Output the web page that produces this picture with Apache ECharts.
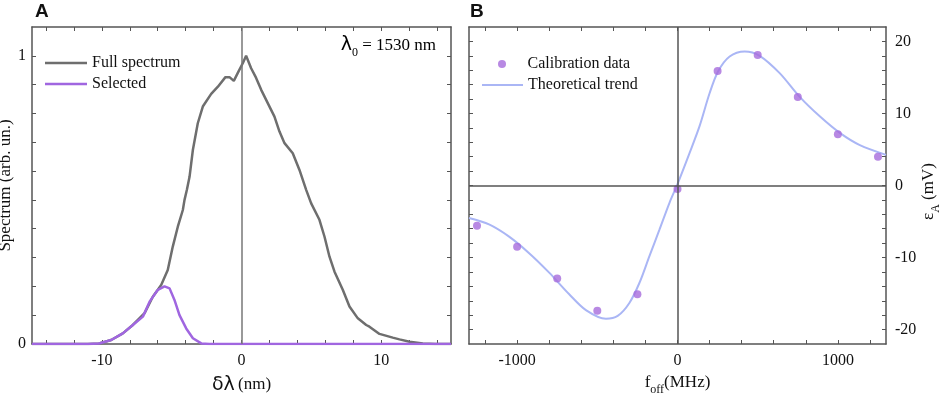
<!DOCTYPE html>
<html>
<head>
<meta charset="utf-8">
<script src="https://cdn.jsdelivr.net/npm/echarts@6/dist/echarts.min.js"></script>
<style>
  html, body { margin: 0; padding: 0; background: #fff; }
  #chart { width: 941px; height: 396px; }
</style>
</head>
<body>
<div id="chart"></div>
<script>
// panel A: spectrum vs detuning (nm)
const spectrumX = [-15, -11, -10.2, -9.33, -8.5, -7.78, -6.94, -6.35, -5.99, -5.75, -5.28, -4.92, -4.56, -4.2, -4.08, -3.91, -3.72, -3.48, -3.13, -2.77, -2.17, -1.69, -1.15, -0.86, -0.55, -0.21, 0.1, 0.33, 0.69, 1.0, 1.41, 1.88, 2.36, 2.72, 3.08, 3.67, 4.15, 4.63, 4.99, 5.58, 5.94, 6.3, 6.66, 7.25, 7.73, 8.33, 8.93, 9.16, 9.88, 10.83, 11.31, 12.03, 12.98, 13.9, 15];
const spectrumY = [0, 0, 0.002, 0.014, 0.037, 0.066, 0.107, 0.164, 0.188, 0.205, 0.257, 0.338, 0.407, 0.465, 0.5, 0.535, 0.58, 0.674, 0.766, 0.824, 0.868, 0.893, 0.926, 0.926, 0.913, 0.946, 0.975, 1.0, 0.957, 0.928, 0.882, 0.836, 0.789, 0.737, 0.697, 0.662, 0.604, 0.535, 0.488, 0.431, 0.373, 0.303, 0.251, 0.188, 0.13, 0.089, 0.066, 0.06, 0.035, 0.022, 0.016, 0.008, 0.002, 0, 0];
const selectedX = [-15, -11, -10.2, -9.33, -8.5, -7.78, -7.06, -6.58, -5.99, -5.51, -5.15, -4.8, -4.44, -3.96, -3.48, -2.88, -2.3, 15];
const selectedY = [0, 0, 0.002, 0.014, 0.037, 0.066, 0.095, 0.147, 0.188, 0.2, 0.193, 0.153, 0.1, 0.054, 0.02, 0.002, 0, 0];

// panel B: error signal vs frequency offset (MHz)
const calibF = [-1250, -1000, -750, -500, -250, 0, 250, 500, 750, 1000, 1250];
const calibEps = [-5.6, -8.5, -12.9, -17.4, -15.1, -0.5, 15.9, 18.1, 12.3, 7.1, 4.0];
const trendF = [-1300, -1175, -1050, -925, -800, -675, -571, -446, -373, -300, -237, -175, -112, -50, 0, 75, 137, 200, 252, 325, 419, 512, 637, 762, 887, 1012, 1137, 1300];
const trendEps = [-4.5, -5.4, -7.1, -9.4, -12.1, -15.1, -17.3, -18.5, -18.1, -16.3, -13.5, -9.8, -6.1, -2.4, 0.2, 4.5, 8.2, 12.8, 15.8, 17.9, 18.6, 18.0, 15.6, 12.3, 9.6, 7.3, 5.6, 4.25];

// ticks and labels
const ticksA_x = [-14, -12, -10, -8, -6, -4, -2, 0, 2, 4, 6, 8, 10, 12, 14];
const labelsA_x = [-10, 0, 10];
const ticksA_y = [0, 0.1, 0.2, 0.3, 0.4, 0.5, 0.6, 0.7, 0.8, 0.9, 1.0];
const labelsA_y = [0, 1];
const ticksB_x = [-1200, -1000, -800, -600, -400, -200, 0, 200, 400, 600, 800, 1000, 1200];
const labelsB_x = [-1000, 0, 1000];
const ticksB_y = [-20, -18, -16, -14, -12, -10, -8, -6, -4, -2, 0, 2, 4, 6, 8, 10, 12, 14, 16, 18, 20];
const labelsB_y = [-20, -10, 0, 10, 20];

function zip(xs, ys) {
  return xs.map((x, i) => [x, ys[i]]);
}

const serif = "Liberation Serif";
const frameColor = "#555";
const sub = {
  main: { fontFamily: serif, fontSize: 17, color: "#111", lineHeight: 26, verticalAlign: "middle" },
  sym: { fontFamily: "DejaVu Sans", fontSize: 19, color: "#111", lineHeight: 26, verticalAlign: "middle" },
  sub: { fontFamily: serif, fontSize: 12, color: "#111", lineHeight: 12, verticalAlign: "bottom" }
};
const legendText = { fontFamily: serif, fontSize: 16, color: "#111" };

function frameAxis(grid, min, max, pos, ticks, labels, margin) {
  return {
    type: "value",
    gridIndex: grid,
    min: min,
    max: max,
    position: pos,
    axisLine: { show: true, onZero: false, lineStyle: { color: frameColor, width: 1.5 } },
    axisTick: { show: true, inside: true, length: 4, customValues: ticks, lineStyle: { color: frameColor, width: 1 } },
    axisLabel: labels
      ? {
          show: true,
          customValues: labels,
          formatter: (v) => String(v),
          fontFamily: serif,
          fontSize: 16,
          color: "#111",
          margin: margin
        }
      : { show: false },
    splitLine: { show: false }
  };
}

const xA = frameAxis(0, -15, 15, "bottom", ticksA_x, labelsA_x, 9);
xA.name = "{sym|δλ} {main|(nm)}";
xA.nameLocation = "middle";
xA.nameGap = 28;
xA.nameTextStyle = { rich: sub };

const yA = frameAxis(0, 0, 1.1, "left", ticksA_y, labelsA_y, 6);
yA.name = "Spectrum (arb. un.)";
yA.nameLocation = "middle";
yA.nameGap = 7;
yA.nameRotate = 90;
yA.nameTextStyle = { fontFamily: serif, fontSize: 17, color: "#111" };

const xB = frameAxis(1, -1300, 1300, "bottom", ticksB_x, labelsB_x, 9);
xB.name = "{main|f}{sub|off}{main|(MHz)}";
xB.nameLocation = "middle";
xB.nameGap = 26;
xB.nameTextStyle = { rich: sub };

const yB = frameAxis(1, -22, 22, "right", ticksB_y, labelsB_y, 9);
yB.name = "{main|ε}{sub|A}{main| (mV)}";
yB.nameLocation = "middle";
yB.nameGap = 30;
yB.nameRotate = 90;
yB.nameTextStyle = { rich: sub, padding: [0, 12, 0, 0] };

const myChart = echarts.init(document.getElementById("chart"));

const options = {
  animation: false,
  backgroundColor: "#fff",
  grid: [
    { left: 32, right: 490, top: 27, bottom: 52, outerBoundsMode: "none", containLabel: false },
    { left: 469, right: 55, top: 27, bottom: 52, outerBoundsMode: "none", containLabel: false }
  ],
  xAxis: [
    xA,
    frameAxis(0, -15, 15, "top", ticksA_x, null),
    xB,
    frameAxis(1, -1300, 1300, "top", ticksB_x, null)
  ],
  yAxis: [
    yA,
    frameAxis(0, 0, 1.1, "right", ticksA_y, null),
    yB,
    frameAxis(1, -22, 22, "left", ticksB_y, null)
  ],
  legend: [
    {
      left: 40,
      top: 50,
      padding: 5,
      orient: "vertical",
      itemWidth: 42,
      itemHeight: 2.5,
      itemGap: 5,
      textStyle: legendText,
      data: [
        { name: "Full spectrum", icon: "rect" },
        { name: "Selected", icon: "rect" }
      ]
    },
    {
      left: 493,
      top: 51,
      padding: 5,
      itemWidth: 41,
      itemHeight: 8,
      textStyle: legendText,
      data: [{ name: "Calibration data", icon: "circle" }]
    },
    {
      left: 477,
      top: 72,
      padding: 5,
      itemWidth: 41,
      itemHeight: 2,
      textStyle: legendText,
      data: [{ name: "Theoretical trend", icon: "rect" }]
    }
  ],
  graphic: [
    { type: "text", left: 35, top: 2, style: { text: "A", font: "bold 19px 'Liberation Sans'", fill: "#111" } },
    { type: "text", left: 470, top: 2, style: { text: "B", font: "bold 19px 'Liberation Sans'", fill: "#111" } },
    {
      type: "text",
      right: 505,
      top: 36,
      style: {
        text: "{sym|λ}{sub|0}{main| = 1530 nm}",
        rich: sub
      }
    }
  ],
  series: [
    {
      name: "Full spectrum",
      type: "line",
      xAxisIndex: 0,
      yAxisIndex: 0,
      symbol: "none",
      color: "#6e6e6e",
      lineStyle: { color: "#6e6e6e", width: 2.5 },
      data: zip(spectrumX, spectrumY),
      markLine: {
        silent: true,
        symbol: ["none", "none"],
        label: { show: false },
        lineStyle: { type: "solid", color: "#777", width: 1.5 },
        data: [{ xAxis: 0 }]
      },
      z: 3
    },
    {
      name: "Selected",
      type: "line",
      xAxisIndex: 0,
      yAxisIndex: 0,
      symbol: "none",
      color: "#a066e0",
      lineStyle: { color: "#a066e0", width: 2.5 },
      data: zip(selectedX, selectedY),
      z: 4
    },
    {
      name: "Theoretical trend",
      type: "line",
      xAxisIndex: 2,
      yAxisIndex: 2,
      symbol: "none",
      smooth: 0.3,
      color: "#aab6f5",
      lineStyle: { color: "#aab6f5", width: 2 },
      data: zip(trendF, trendEps),
      markLine: {
        silent: true,
        symbol: ["none", "none"],
        label: { show: false },
        lineStyle: { type: "solid", color: "#555", width: 1.5 },
        data: [{ xAxis: 0 }, { yAxis: 0 }]
      },
      z: 3
    },
    {
      name: "Calibration data",
      type: "scatter",
      xAxisIndex: 2,
      yAxisIndex: 2,
      symbol: "circle",
      symbolSize: 8,
      color: "#a66bdc",
      itemStyle: { color: "#a66bdc" },
      data: zip(calibF, calibEps),
      z: 4
    }
  ]
};
if (options && typeof options === "object") myChart.setOption(options);
</script>
</body>
</html>
